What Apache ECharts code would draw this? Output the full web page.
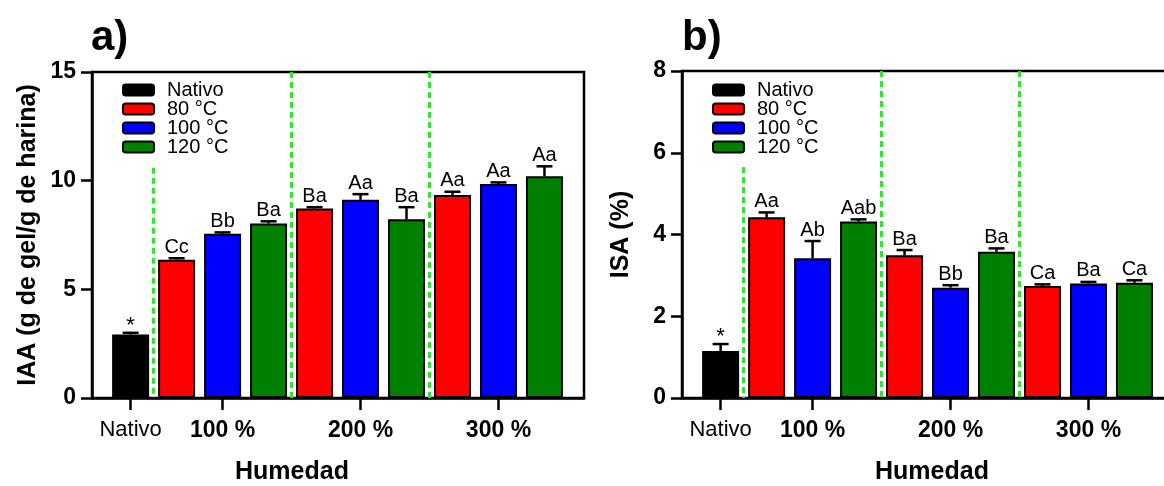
<!DOCTYPE html>
<html>
<head>
<meta charset="utf-8">
<script src="https://cdn.jsdelivr.net/npm/echarts@6/dist/echarts.min.js"></script>
<style>
html,body{margin:0;padding:0;background:#fff;}
#chart{width:1164px;height:486px;}
</style>
</head>
<body>
<div id="chart"></div>
<script>
// ---- data ----
const groupLabels = ['Nativo', '100 %', '200 %', '300 %'];
const groupTickPos = [0, 2, 5, 8];
const seriesNames = ['Nativo', '80 °C', '100 °C', '120 °C'];
const seriesColors = ['#000000', '#ff0000', '#0000ff', '#008000'];
const barTreatment = [0, 1, 2, 3, 1, 2, 3, 1, 2, 3];
const iaaMean = [2.92, 6.36, 7.56, 8.03, 8.72, 9.12, 8.23, 9.34, 9.85, 10.2];
const iaaSd = [0.08, 0.07, 0.06, 0.10, 0.06, 0.26, 0.55, 0.15, 0.07, 0.46];
const iaaLetters = ['*', 'Cc', 'Bb', 'Ba', 'Ba', 'Aa', 'Ba', 'Aa', 'Aa', 'Aa'];
const isaMean = [1.15, 4.42, 3.42, 4.32, 3.49, 2.70, 3.58, 2.74, 2.80, 2.82];
const isaSd = [0.17, 0.12, 0.42, 0.05, 0.13, 0.06, 0.08, 0.04, 0.04, 0.06];
const isaLetters = ['*', 'Aa', 'Ab', 'Aab', 'Ba', 'Bb', 'Ba', 'Ca', 'Ba', 'Ca'];
const separatorsA = [[0.5, 10.6], [3.5, 15], [6.5, 15]];
const separatorsB = [[0.5, 5.65], [3.5, 8], [6.5, 8]];

const FONT = 'Liberation Sans, Arial, Helvetica, sans-serif';

function barSeries(mean, axisIdx, seps) {
  return seriesNames.map((name, s) => {
    const data = [];
    mean.forEach((v, i) => { if (barTreatment[i] === s) data.push([i, v]); });
    const ser = {
      type: 'bar', name: name,
      xAxisIndex: axisIdx, yAxisIndex: axisIdx,
      data: data, barWidth: 37, barGap: '-100%',
      itemStyle: { color: seriesColors[s], borderColor: '#000', borderWidth: 2 },
      emphasis: { disabled: true },
      z: 2
    };
    if (s === 0) {
      ser.markLine = {
        silent: true, symbol: 'none', animation: false,
        lineStyle: { color: '#2ee62e', width: 3, type: [6, 4] },
        label: { show: false },
        data: seps.map(p => [{ coord: [p[0], p[1]] }, { coord: [p[0], 0] }])
      };
    }
    return ser;
  });
}

function errSeries(mean, sd, letters, axisIdx) {
  return {
    type: 'custom', xAxisIndex: axisIdx, yAxisIndex: axisIdx,
    data: mean.map((v, i) => [i, v, sd[i], letters[i]]),
    clip: false, z: 5, silent: true,
    renderItem: function (params, api) {
      const x = api.value(0), y = api.value(1), e = api.value(2);
      const idx = params.dataIndex;
      const p0 = api.coord([x, y]);
      const p1 = api.coord([x, y + e]);
      const st = { stroke: '#000', lineWidth: 2.5 };
      const isStar = letters[idx] === '*';
      return {
        type: 'group',
        children: [
          { type: 'line', shape: { x1: p0[0], y1: p0[1], x2: p1[0], y2: p1[1] }, style: st },
          { type: 'line', shape: { x1: p1[0] - 8, y1: p1[1], x2: p1[0] + 8, y2: p1[1] }, style: st },
          { type: 'text', x: p1[0], y: p1[1] + (isStar ? 4 : -1),
            style: { text: letters[idx], fill: '#000', font: (isStar ? '22px ' : '20px ') + FONT,
              textAlign: 'center', textVerticalAlign: 'bottom' } }
        ]
      };
    }
  };
}

function xAxisCfg(gridIdx, namePad) {
  return {
    type: 'value', gridIndex: gridIdx, min: -0.84, max: 9.86,
    axisLine: { onZero: false, lineStyle: { color: '#000', width: 2.5 } },
    axisTick: { show: true, length: 12, lineStyle: { color: '#000', width: 2.5 }, customValues: groupTickPos },
    axisLabel: {
      customValues: groupTickPos, margin: 21,
      formatter: function (v) {
        const k = groupTickPos.indexOf(Math.round(v));
        if (k < 0) return '';
        return k === 0 ? '{n|' + groupLabels[k] + '}' : '{b|' + groupLabels[k] + '}';
      },
      rich: {
        n: { fontFamily: FONT, fontSize: 22, color: '#000' },
        b: { fontFamily: FONT, fontSize: 23, fontWeight: 'bold', color: '#000' }
      }
    },
    splitLine: { show: false },
    name: 'Humedad', nameLocation: 'middle', nameGap: 62,
    nameTextStyle: { fontFamily: FONT, fontSize: 25, fontWeight: 'bold', color: '#000', padding: namePad }
  };
}

function yAxisCfg(gridIdx, max, interval, name, gap) {
  return {
    type: 'value', gridIndex: gridIdx, min: 0, max: max, interval: interval,
    axisLine: { show: true, onZero: false, lineStyle: { color: '#000', width: 2.5 } },
    axisTick: { show: true, length: 11, lineStyle: { color: '#000', width: 2.5 } },
    axisLabel: { fontFamily: FONT, fontSize: 23, fontWeight: 'bold', color: '#000', margin: 16 },
    splitLine: { show: false },
    name: name, nameLocation: 'middle', nameGap: gap, nameRotate: 90,
    nameTextStyle: { fontFamily: FONT, fontSize: 25, fontWeight: 'bold', color: '#000' }
  };
}

function legendCfg(left) {
  return {
    data: seriesNames, orient: 'vertical', left: left, top: 75,
    itemWidth: 31, itemHeight: 11, itemGap: -1, selectedMode: false,
    textStyle: { fontFamily: FONT, fontSize: 20, color: '#000', lineHeight: 17, padding: [0, 0, 0, 8] }
  };
}

const chart = echarts.init(document.getElementById('chart'));
chart.setOption({
  backgroundColor: '#fff',
  animation: false,
  title: [
    { text: 'a)', left: 86, top: 12, textStyle: { fontFamily: FONT, fontSize: 42, fontWeight: 'bold', color: '#000' } },
    { text: 'b)', left: 677, top: 12, textStyle: { fontFamily: FONT, fontSize: 42, fontWeight: 'bold', color: '#000' } }
  ],
  legend: [legendCfg(117), legendCfg(707)],
  grid: [
    { left: 92, top: 72, width: 492, height: 326, show: true, borderColor: '#000', borderWidth: 2.5, backgroundColor: 'transparent', outerBoundsMode: 'none', containLabel: false },
    { left: 682, top: 71, width: 492, height: 327, show: true, borderColor: '#000', borderWidth: 2.5, backgroundColor: 'transparent', outerBoundsMode: 'none', containLabel: false }
  ],
  xAxis: [xAxisCfg(0, [0, 92, 0, 0]), xAxisCfg(1, [0, 0, 0, 8])],
  yAxis: [
    yAxisCfg(0, 15, 5, 'IAA (g de gel/g de harina)', 51),
    yAxisCfg(1, 8, 2, 'ISA (%)', 48)
  ],
  series: [].concat(
    barSeries(iaaMean, 0, separatorsA),
    [errSeries(iaaMean, iaaSd, iaaLetters, 0)],
    barSeries(isaMean, 1, separatorsB),
    [errSeries(isaMean, isaSd, isaLetters, 1)]
  )
});
</script>
</body>
</html>
